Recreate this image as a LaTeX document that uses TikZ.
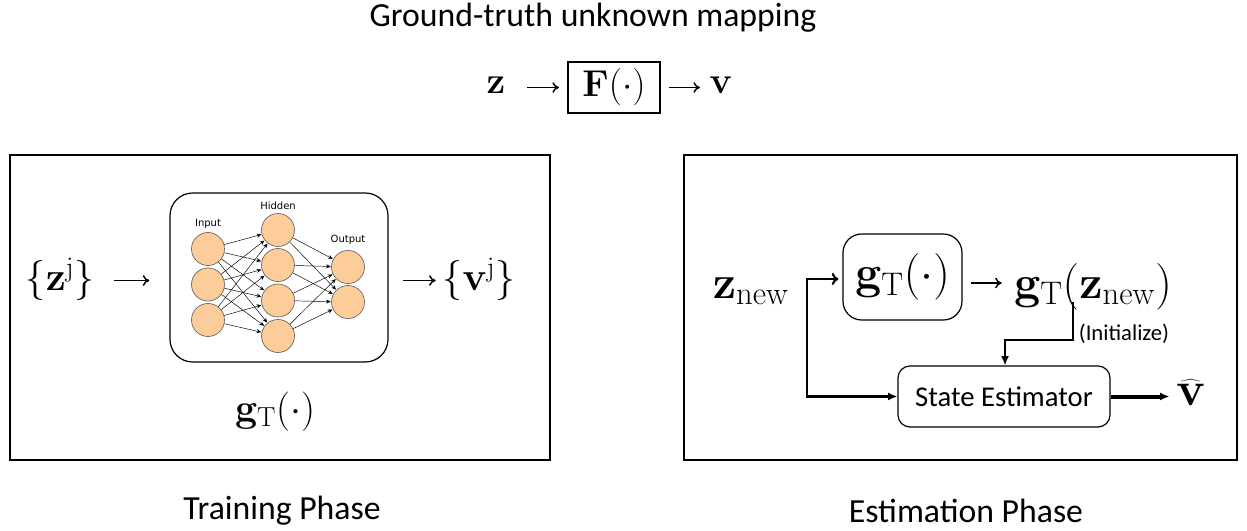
\RequirePackage{fix-cm}
\documentclass[tikz,border=0pt]{standalone}
\usepackage[no-math]{fontspec}
\setmainfont{Carlito}
\newfontfamily\nnfont{DejaVu Sans}
\usetikzlibrary{arrows.meta}
\definecolor{neuron}{RGB}{252,204,153}
\definecolor{neuronline}{RGB}{100,100,100}
\begin{document}
\begin{tikzpicture}[x=0.75pt,y=-0.75pt,
  panel/.style={draw, line width=2.2pt},
  lbl/.style={font=\fontsize{25.3}{30}\selectfont, inner sep=0pt},
  mtop/.style={font=\fontsize{28}{33}\selectfont, inner sep=0pt},
  mleft/.style={font=\fontsize{30}{35}\selectfont, inner sep=0pt},
  mright/.style={font=\fontsize{35}{41}\selectfont, inner sep=0pt},
  tarrow/.style={-{To[length=5pt,width=8pt]}, line width=1.1pt},
  neur/.style={circle, draw=neuronline, line width=0.5pt, fill=neuron, minimum size=24.75pt, inner sep=0pt},
  nnlbl/.style={font=\nnfont\fontsize{7.5}{9}\selectfont, inner sep=0pt},
  nnedge/.style={-{Stealth[length=3.5pt,width=3pt]}, line width=0.35pt, shorten >=0.3pt},
  thickline/.style={line width=2.2pt},
  thickarrow/.style={line width=2.2pt, -{Latex[length=7pt,width=6pt]}},
  rbox/.style={draw, line width=0.9pt, rounded corners=15pt}
]
\useasboundingbox (0,0) rectangle (1247,531);

% title and ground truth mapping
\node[lbl] (title) at (593,18) {Ground-truth unknown mapping};
\node[mtop, anchor=base] (z) at (496,94) {$\mathbf{z}$};
\node[draw, line width=1.5pt, minimum width=69pt, minimum height=38pt, inner sep=0pt, font=\fontsize{28}{33}\selectfont] (F) at (614,87.5) {$\mathbf{F}(\cdot)$};
\node[mtop, anchor=base] (v) at (721,94) {$\mathbf{v}$};
\draw[tarrow, shorten <=16pt, shorten >=6pt] (z.east |- F.west) -- (F.west);
\draw[tarrow, shorten <=6pt, shorten >=7pt] (F.east) -- (F.east -| v.west);

% panels
\node[panel, minimum width=405pt, minimum height=228.75pt, inner sep=0pt] (lp) at (280,307.5) {};
\node[panel, minimum width=414.75pt, minimum height=228.75pt, inner sep=0pt] (rp) at (960.5,307.5) {};
\node[lbl] (tp) at (282,511) {Training Phase};
\node[lbl] (ep) at (966,511) {Estimation Phase};

% left panel
\node[draw, line width=0.9pt, rounded corners=17pt, minimum width=163.5pt, minimum height=126.75pt, inner sep=0pt] (nn) at (279,277.5) {};
\node[mleft, anchor=base] (zj) at (60,291) {$\big\{\mathbf{z}^{\mathrm{j}}\big\}$};
\node[mleft, anchor=base] (vj) at (479,291) {$\big\{\mathbf{v}^{\mathrm{j}}\big\}$};
\draw[tarrow, shorten <=15pt, shorten >=15pt] (zj.east |- nn.west) ++(0,3) coordinate (a1) -- (a1 -| nn.west);
\draw[tarrow, shorten <=11pt, shorten >=5pt] (nn.east) ++(0,3) coordinate (a2) -- (a2 -| vj.west);
\node[mleft, font=\fontsize{29.5}{35}\selectfont, anchor=base] (gl) at (275,421) {$\mathbf{g}_{\mathrm{T}}(\cdot)$};

% neural net
\node[neur] (i1) at (208,249) {};
\node[neur] (i2) at (208,284.5) {};
\node[neur] (i3) at (208,320) {};
\node[neur] (h1) at (278,230) {};
\node[neur] (h2) at (278,265) {};
\node[neur] (h3) at (278,300.5) {};
\node[neur] (h4) at (278,336) {};
\node[neur] (o1) at (348,267) {};
\node[neur] (o2) at (348,302) {};
\node[nnlbl] (li) at (208,224) {Input};
\node[nnlbl] (lh) at (278,206) {Hidden};
\node[nnlbl] (lo) at (348,240) {Output};
\foreach \a in {i1,i2,i3} \foreach \b in {h1,h2,h3,h4} \draw[nnedge] (\a) -- (\b);
\foreach \a in {h1,h2,h3,h4} \foreach \b in {o1,o2} \draw[nnedge] (\a) -- (\b);

% right panel
\node[mright, anchor=base] (zn) at (751,298) {$\mathbf{z}_{\mathrm{new}}$};
\node[draw, line width=0.9pt, rounded corners=14pt, minimum width=89.25pt, minimum height=64.5pt, inner sep=0pt, font=\fontsize{35}{41}\selectfont] (gb) at (902.5,277) {$\mathbf{g}_{\mathrm{T}}(\cdot)$};
\node[mright, anchor=base] (gz) at (1093,298) {$\mathbf{g}_{\mathrm{T}}(\mathbf{z}_{\mathrm{new}})$};
\node[rbox, rounded corners=9pt, minimum width=159pt, minimum height=45.75pt, inner sep=0pt, font=\fontsize{21.5}{26}\selectfont] (se) at (1004,396.5) {State Estimator};
\node[mright, font=\fontsize{36}{42}\selectfont, anchor=base] (vh) at (1191,405) {$\widehat{\mathbf{v}}$};
\node[font=\fontsize{17}{20}\selectfont, inner sep=0pt] (ini) at (1124,334) {(Initialize)};

\coordinate (j1) at (807,279);
\coordinate (j2) at (807,396.5);
\draw[thickline] (j1) -- (j2);
\draw[line width=1.6pt, -{To[length=5pt,width=9pt]}, shorten >=3pt] ([xshift=-0.8pt]j1) -- (j1 -| gb.west);
\draw[thickarrow] ([xshift=-0.8pt]j2) -- (se.west);
\draw[tarrow, shorten <=6pt, shorten >=9pt] ([yshift=-4.5pt]gb.east) -- ([yshift=-4.5pt]gb.east -| gz.west);
\coordinate (k1) at (1073,302);
\coordinate (k2) at (1005,340);
\draw[thickarrow] (k1) |- (k2) -- (k2 |- se.north);
\draw[thickarrow, line width=3pt, shorten >=5pt] (se.east) -- (se.east -| vh.west);
\end{tikzpicture}
\end{document}
